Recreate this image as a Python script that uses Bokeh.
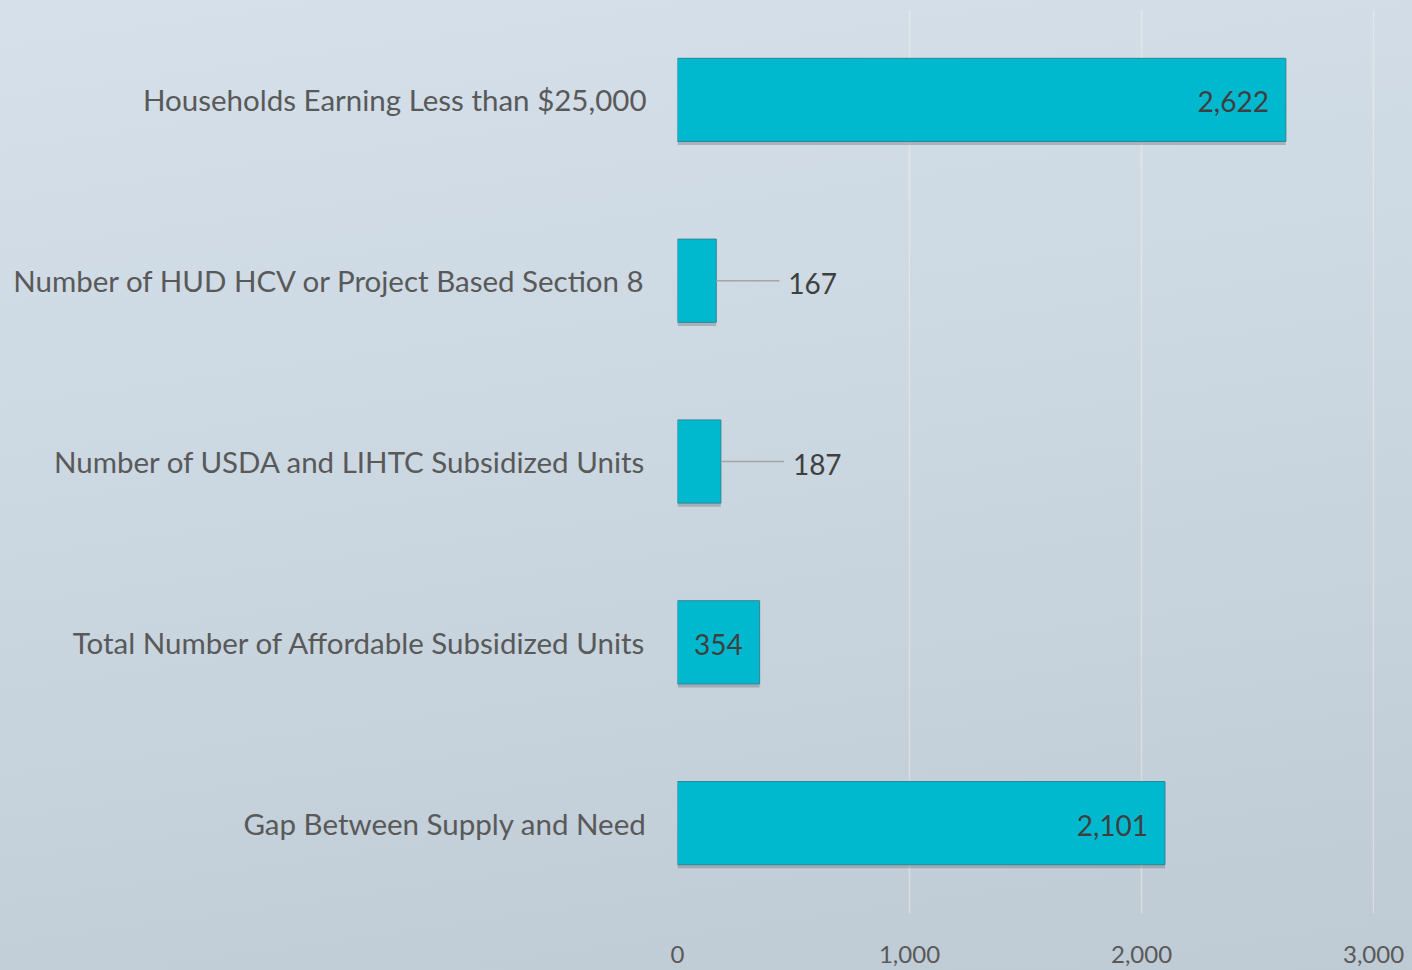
from bokeh.plotting import figure
from bokeh.models import ColumnDataSource, Range1d, FixedTicker, GlobalInlineStyleSheet
from bokeh.transform import dodge
from bokeh.core.properties import value
from bokeh.embed import file_html
from bokeh.resources import INLINE

categories = [
    "Households Earning Less than $25,000",
    "Number of HUD HCV or Project Based Section 8",
    "Number of USDA and LIHTC Subsidized Units",
    "Total Number of Affordable Subsidized Units",
    "Gap Between Supply and Need",
]
values = [2622, 167, 187, 354, 2101]
x_ticks = [0, 1000, 2000, 3000]
x_tick_labels = ["0", "1,000", "2,000", "3,000"]

FONT = "Lato"
n = len(categories)
pos = [n - 1 - i for i in range(n)]
labels = [f"{v:,}" for v in values]
inside = [v > 300 for v in values]

src = ColumnDataSource(dict(y=pos, v=values, lab=labels))
src_in = ColumnDataSource(dict(
    y=[p for p, i in zip(pos, inside) if i],
    v=[v for v, i in zip(values, inside) if i],
    lab=[l for l, i in zip(labels, inside) if i],
))
src_out = ColumnDataSource(dict(
    y=[p for p, i in zip(pos, inside) if not i],
    v=[v for v, i in zip(values, inside) if not i],
    v1=[v + 272 for v, i in zip(values, inside) if not i],
    lab=[l for l, i in zip(labels, inside) if not i],
))

p = figure(width=1412, height=970, x_range=Range1d(0, 3004), y_range=Range1d(-0.5, n - 0.5),
           output_backend="svg", toolbar_location=None,
           min_border_left=677, min_border_right=38, min_border_top=9, min_border_bottom=57)
p.background_fill_alpha = 0
p.border_fill_alpha = 0
p.outline_line_color = None
p.stylesheets = [GlobalInlineStyleSheet(css="html{min-height:100%;background:linear-gradient(172deg,#D5E0EA 0%,#CAD6E0 50%,#BECAD4 100%);}")]

# grid
p.xgrid.ticker = FixedTicker(ticks=x_ticks)
p.xgrid.grid_line_color = "#F2F2F2"
p.xgrid.grid_line_alpha = 0.45
p.xgrid.grid_line_width = 1.5
p.ygrid.grid_line_color = None

# shadow
p.hbar(y=dodge("y", -0.02), left=0, right="v", height=0.46, source=src,
       fill_color="#4A5560", fill_alpha=0.3, line_color=None)
# bars
p.hbar(y="y", left=0, right="v", height=0.46, source=src,
       fill_color="#00B9CF", line_color="#2D8795", line_width=1)

# leader lines
p.segment(x0="v", y0="y", x1="v1", y1="y", source=src_out, line_color="#A5A5A5", line_width=1.5)

p.text(x="v", y="y", text="lab", source=src_in, text_align="right", text_baseline="middle",
       x_offset=-17, y_offset=2, text_font=value(FONT), text_font_size="28px", text_color="#3F3F3F")
p.text(x="v", y="y", text="lab", source=src_out, text_align="left", text_baseline="middle",
       x_offset=72, y_offset=3, text_font=value(FONT), text_font_size="28px", text_color="#3F3F3F")

# axes
p.xaxis.ticker = FixedTicker(ticks=x_ticks)
p.xaxis.major_label_overrides = {t: l for t, l in zip(x_ticks, x_tick_labels)}
p.xaxis.axis_line_color = None
p.xaxis.major_tick_line_color = None
p.xaxis.minor_tick_line_color = None
p.xaxis.major_label_standoff = 26
p.xaxis.major_label_text_font = FONT
p.xaxis.major_label_text_font_size = "24px"
p.xaxis.major_label_text_color = "#595959"

p.yaxis.ticker = FixedTicker(ticks=pos)
p.yaxis.major_label_overrides = {pp: c for pp, c in zip(pos, categories)}
p.yaxis.axis_line_color = None
p.yaxis.major_tick_line_color = None
p.yaxis.minor_tick_line_color = None
p.yaxis.major_label_standoff = 25
p.yaxis.major_label_text_font = FONT
p.yaxis.major_label_text_font_size = "29.5px"
p.yaxis.major_label_text_color = "#595959"

open("out.html", "w").write(file_html(p, INLINE))
